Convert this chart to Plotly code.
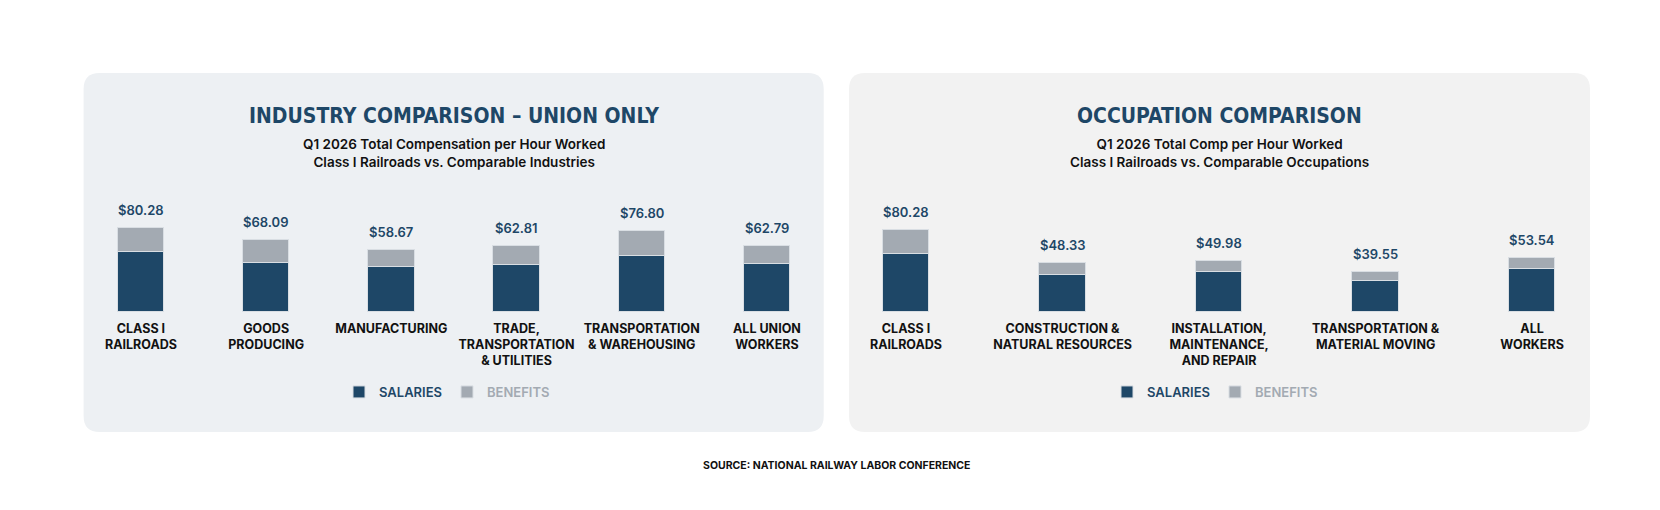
import plotly.graph_objects as go

# ---- data ----
industries = ["CLASS I<br>RAILROADS", "GOODS<br>PRODUCING", "MANUFACTURING",
              "TRADE,<br>TRANSPORTATION<br>& UTILITIES", "TRANSPORTATION<br>& WAREHOUSING",
              "ALL UNION<br>WORKERS"]
ind_salaries = [57.20, 46.60, 42.70, 44.50, 53.20, 45.70]
ind_benefits = [23.08, 21.49, 15.97, 18.31, 23.60, 17.09]
ind_totals = [80.28, 68.09, 58.67, 62.81, 76.80, 62.79]

occupations = ["CLASS I<br>RAILROADS", "CONSTRUCTION &<br>NATURAL RESOURCES",
               "INSTALLATION,<br>MAINTENANCE,<br>AND REPAIR",
               "TRANSPORTATION &<br>MATERIAL MOVING", "ALL<br>WORKERS"]
occ_salaries = [57.20, 36.80, 39.30, 30.30, 42.90]
occ_benefits = [23.08, 11.53, 10.68, 9.25, 10.64]
occ_totals = [80.28, 48.33, 49.98, 39.55, 53.54]

# the page body has an 8px margin, so the figure is a bit smaller and offset
OFF = 8
W, H = 1660 - 2 * OFF, 510 - 2 * OFF
NAVY = "#1E4767"
GREY = "#A3AAB2"
BODY = "Inter, Lato, sans-serif"
TITLE_FONT = "DejaVu Sans Condensed, sans-serif"


def px(x):
    return (x - OFF) / W


def py(y):
    return 1 - (y - OFF) / H


def rounded_rect(x0, y0, x1, y1, r):
    # pixel coords -> paper path with rounded corners
    pts = [
        f"M {px(x0 + r)},{py(y0)}",
        f"L {px(x1 - r)},{py(y0)}",
        f"Q {px(x1)},{py(y0)} {px(x1)},{py(y0 + r)}",
        f"L {px(x1)},{py(y1 - r)}",
        f"Q {px(x1)},{py(y1)} {px(x1 - r)},{py(y1)}",
        f"L {px(x0 + r)},{py(y1)}",
        f"Q {px(x0)},{py(y1)} {px(x0)},{py(y1 - r)}",
        f"L {px(x0)},{py(y0 + r)}",
        f"Q {px(x0)},{py(y0)} {px(x0 + r)},{py(y0)}",
        "Z",
    ]
    return " ".join(pts)


fig = go.Figure()

outline = dict(color="#D9DEE3", width=1)

fig.add_trace(go.Bar(x=industries, y=ind_salaries, name="SALARIES",
                     marker=dict(color=NAVY, line=outline), width=0.371,
                     xaxis="x", yaxis="y", legend="legend", hoverinfo="skip"))
fig.add_trace(go.Bar(x=industries, y=ind_benefits,
                     name=f"<span style='color:{GREY}'>BENEFITS</span>",
                     marker=dict(color=GREY, line=outline), width=0.371,
                     xaxis="x", yaxis="y", legend="legend", hoverinfo="skip"))
fig.add_trace(go.Bar(x=occupations, y=occ_salaries, name="SALARIES",
                     marker=dict(color=NAVY, line=outline), width=0.297,
                     xaxis="x2", yaxis="y2", legend="legend2", hoverinfo="skip"))
fig.add_trace(go.Bar(x=occupations, y=occ_benefits,
                     name=f"<span style='color:{GREY}'>BENEFITS</span>",
                     marker=dict(color=GREY, line=outline), width=0.297,
                     xaxis="x2", yaxis="y2", legend="legend2", hoverinfo="skip"))

annotations = []
for cats, totals, xr, yr in [(industries, ind_totals, "x", "y"),
                             (occupations, occ_totals, "x2", "y2")]:
    for c, t in zip(cats, totals):
        annotations.append(dict(x=c, y=t, xref=xr, yref=yr, text=f"${t:.2f}",
                                showarrow=False, yanchor="middle", yshift=18,
                                font=dict(family=BODY, size=13, color=NAVY, weight=600)))

panels = [
    (83.6, 823.7, "INDUSTRY COMPARISON – UNION ONLY",
     "Q1 2026 Total Compensation per Hour Worked<br>Class I Railroads vs. Comparable Industries",
     "#EDF0F3"),
    (849, 1590, "OCCUPATION COMPARISON",
     "Q1 2026 Total Comp per Hour Worked<br>Class I Railroads vs. Comparable Occupations",
     "#F2F2F2"),
]
shapes = []
for x0, x1, title, sub, bg in panels:
    shapes.append(dict(type="path", path=rounded_rect(x0, 73, x1, 432, 16),
                       xref="paper", yref="paper", fillcolor=bg,
                       line=dict(width=0), layer="below"))
    cx = px((x0 + x1) / 2)
    annotations.append(dict(x=cx, y=py(116), xref="paper", yref="paper", text=title,
                            showarrow=False, xanchor="center", yanchor="middle",
                            font=dict(family=TITLE_FONT, size=21, color=NAVY, weight="bold")))
    annotations.append(dict(x=cx, y=py(153.4), xref="paper", yref="paper", text=sub,
                            showarrow=False, xanchor="center", yanchor="middle",
                            font=dict(family=BODY, size=13.5, color="#111111", weight=600)))

annotations.append(dict(x=px(836), y=py(465.5), xref="paper", yref="paper",
                        text="SOURCE: NATIONAL RAILWAY LABOR CONFERENCE", showarrow=False,
                        xanchor="center", yanchor="middle",
                        font=dict(family=BODY, size=10.5, color="#111111", weight="bold")))

tickfont = dict(family=BODY, size=12.5, color="#111111", weight="bold")
ydom = [py(312.3), py(190)]
axis_common = dict(showgrid=False, zeroline=False, showline=False, ticks="",
                   tickfont=tickfont, fixedrange=True, ticklabelstandoff=7)

legend_common = dict(orientation="h", yanchor="middle", y=py(392), xanchor="center",
                     bgcolor="rgba(0,0,0,0)", traceorder="normal",
                     font=dict(family=BODY, size=13, color=NAVY, weight=600),
                     itemclick=False, itemdoubleclick=False)

fig.update_layout(
    width=W, height=H,
    margin=dict(l=0, r=0, t=0, b=0),
    paper_bgcolor="white", plot_bgcolor="rgba(0,0,0,0)",
    barmode="stack", bargap=0,
    xaxis=dict(domain=[px(90), px(820)], range=[-0.407, 5.424], anchor="y", **axis_common),
    xaxis2=dict(domain=[px(850), px(1590)], range=[-0.358, 4.370], anchor="y2", **axis_common),
    yaxis=dict(domain=ydom, range=[0, 115.9], visible=False, fixedrange=True, anchor="x"),
    yaxis2=dict(domain=ydom, range=[0, 119.9], visible=False, fixedrange=True, anchor="x2"),
    legend=dict(x=px(447), **legend_common),
    legend2=dict(x=px(1215), **legend_common),
    shapes=shapes,
    annotations=annotations,
    showlegend=True,
)

fig.write_html("out.html")
